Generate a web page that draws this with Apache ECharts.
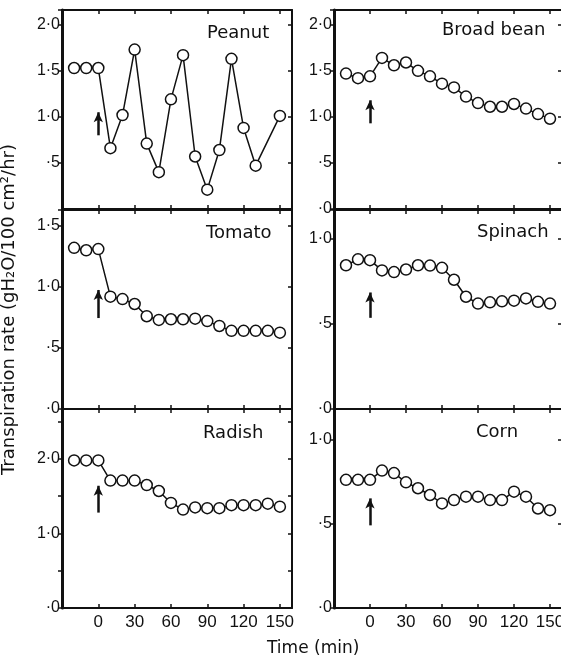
<!DOCTYPE html>
<html>
<head>
<meta charset="utf-8">
<script src="https://cdn.jsdelivr.net/npm/echarts@6/dist/echarts.min.js"></script>
<style>
  html, body { margin: 0; padding: 0; background: #fff; }
  #main { width: 561px; height: 659px; }
</style>
</head>
<body>
<div id="main"></div>
<script>
// time axis (min) and readings
const times = [-20, -10, 0, 10, 20, 30, 40, 50, 60, 70, 80, 90, 100, 110, 120, 130, 140, 150];
const peanutTimes = [-20, -10, 0, 10, 20, 30, 40, 50, 60, 70, 80, 90, 100, 110, 120, 130, 150];
const timeTicks = [0, 30, 60, 90, 120, 150];

const peanut = [1.53, 1.53, 1.53, 0.66, 1.02, 1.73, 0.71, 0.40, 1.19, 1.67, 0.57, 0.21, 0.64, 1.63, 0.88, 0.47, 1.01];
const broadBean = [1.47, 1.42, 1.44, 1.64, 1.56, 1.59, 1.50, 1.44, 1.36, 1.32, 1.22, 1.15, 1.11, 1.11, 1.14, 1.09, 1.03, 0.98];
const tomato = [1.32, 1.30, 1.31, 0.92, 0.90, 0.86, 0.76, 0.73, 0.735, 0.735, 0.74, 0.72, 0.68, 0.64, 0.64, 0.64, 0.64, 0.625];
const spinach = [0.845, 0.88, 0.875, 0.815, 0.805, 0.82, 0.845, 0.843, 0.83, 0.76, 0.66, 0.62, 0.627, 0.633, 0.637, 0.65, 0.63, 0.62];
const radish = [1.98, 1.98, 1.98, 1.71, 1.71, 1.71, 1.65, 1.57, 1.41, 1.32, 1.35, 1.34, 1.34, 1.38, 1.38, 1.38, 1.40, 1.36];
const corn = [0.76, 0.76, 0.76, 0.815, 0.80, 0.745, 0.71, 0.67, 0.62, 0.64, 0.66, 0.66, 0.64, 0.64, 0.69, 0.66, 0.59, 0.58];

// treatment arrows at t = 0 (from, to)
const arrowPeanut = [0.80, 1.05];
const arrowBroadBean = [0.93, 1.18];
const arrowTomato = [0.745, 0.975];
const arrowSpinach = [0.536, 0.685];
const arrowRadish = [1.28, 1.64];
const arrowCorn = [0.49, 0.65];

// y ranges and label steps
const yMaxes = [2.16, 2.16, 1.63, 1.17, 2.67, 1.18];
const labelSteps = [0.5, 0.5, 0.5, 0.5, 1.0, 0.5];

const panels = [
    { name: "Peanut", x: peanutTimes, y: peanut, arrow: arrowPeanut, col: 0, row: 0, nameLeft: 207, nameTop: 24, hideZero: true },
    { name: "Broad bean", x: times, y: broadBean, arrow: arrowBroadBean, col: 1, row: 0, nameLeft: 442, nameTop: 21 },
    { name: "Tomato", x: times, y: tomato, arrow: arrowTomato, col: 0, row: 1, nameLeft: 206, nameTop: 224 },
    { name: "Spinach", x: times, y: spinach, arrow: arrowSpinach, col: 1, row: 1, nameLeft: 477, nameTop: 223 },
    { name: "Radish", x: times, y: radish, arrow: arrowRadish, col: 0, row: 2, nameLeft: 203, nameTop: 424 },
    { name: "Corn", x: times, y: corn, arrow: arrowCorn, col: 1, row: 2, nameLeft: 476, nameTop: 423 },
];

const colLeft = [62, 334];
const colWidth = [230, 228];
const rowTop = [10, 210, 409];
const panelH = 199;
const ink = "#111";
const font = "Liberation Sans";

function yLabel(v, step) {
    const r = Math.round(v / step) * step;
    if (Math.abs(r - v) > 1e-6) return "";
    if (Math.abs(v) < 1e-6) return "·0";
    if (v < 1) return "·5";
    return v.toFixed(1).replace(".", "·");
}

const chart = echarts.init(document.getElementById("main"), null, { renderer: "canvas" });

const grid = [], xAxis = [], yAxis = [], series = [], title = [];

panels.forEach(function (p, i) {
    grid.push({
        left: colLeft[p.col], top: rowTop[p.row], width: colWidth[p.col], height: panelH,
        containLabel: false, outerBoundsMode: "none",
    });

    const isBottom = p.row === 2;
    const xBase = {
        gridIndex: i, type: "value", min: -30, max: 160, interval: 30,
        splitLine: { show: false },
        axisLine: { onZero: false, lineStyle: { color: ink, width: 2 } },
        axisTick: { inside: true, length: 4, lineStyle: { color: ink, width: 1.5 } },
    };
    xAxis.push(Object.assign({}, xBase, {
        position: "bottom",
        axisLabel: {
            show: isBottom, margin: 6, color: ink, fontFamily: font, fontSize: 17,
            formatter: function (v) { return timeTicks.indexOf(v) >= 0 ? String(v) : ""; },
        },
    }));
    xAxis.push(Object.assign({}, xBase, { position: "top", axisLabel: { show: false } }));

    const step = labelSteps[i];
    const yBase = {
        gridIndex: i, type: "value", min: 0, max: yMaxes[i], interval: 0.5,
        splitLine: { show: false },
    };
    const left = Object.assign({}, yBase, {
        position: "left",
        axisLine: { onZero: false, lineStyle: { color: ink, width: 3 } },
        axisTick: { inside: false, length: 4, lineStyle: { color: ink, width: 1.5 } },
        axisLabel: {
            margin: 2, color: ink, fontFamily: font, fontSize: 16,
            showMinLabel: !p.hideZero,
            formatter: function (v) { return yLabel(v, step); },
        },
    });
    if (i === 2) {
        left.name = "Transpiration rate (gH₂O/100 cm²/hr)";
        left.nameLocation = "middle";
        left.nameGap = 44;
        left.nameTextStyle = { color: ink, fontFamily: "DejaVu Sans", fontSize: 18 };
    }
    yAxis.push(left);
    yAxis.push(Object.assign({}, yBase, {
        position: "right",
        axisLine: { onZero: false, lineStyle: { color: ink, width: 2 } },
        axisTick: { inside: true, length: 4, lineStyle: { color: ink, width: 1.5 } },
        axisLabel: { show: false },
    }));

    series.push({
        type: "line",
        xAxisIndex: i * 2,
        yAxisIndex: i * 2,
        data: p.x.map(function (t, k) { return [t, p.y[k]]; }),
        symbol: "circle",
        symbolSize: 11,
        showAllSymbol: true,
        lineStyle: { color: ink, width: 1.5 },
        itemStyle: { color: "#fff", borderColor: ink, borderWidth: 1.5 },
        animation: false,
        z: 3,
        markLine: {
            silent: true,
            animation: false,
            label: { show: false },
            lineStyle: { color: ink, width: 2.5, type: "solid" },
            data: [[
                { coord: [0, p.arrow[0]], symbol: "none" },
                { coord: [0, p.arrow[1]], symbol: "arrow", symbolSize: [7, 10] },
            ]],
        },
    });

    title.push({
        text: p.name, left: p.nameLeft, top: p.nameTop, padding: 0,
        textStyle: { color: ink, fontFamily: "DejaVu Sans", fontSize: 18, fontWeight: "normal" },
    });
});

const option = {
    backgroundColor: "#ffffff",
    animation: false,
    title: title,
    grid: grid,
    xAxis: xAxis,
    yAxis: yAxis,
    series: series,
    graphic: [
        {
            type: "text", left: 267, top: 640,
            style: { text: "Time (min)", fill: ink, font: "17px 'DejaVu Sans'" },
        },
    ],
};

chart.setOption(option);
</script>
</body>
</html>
